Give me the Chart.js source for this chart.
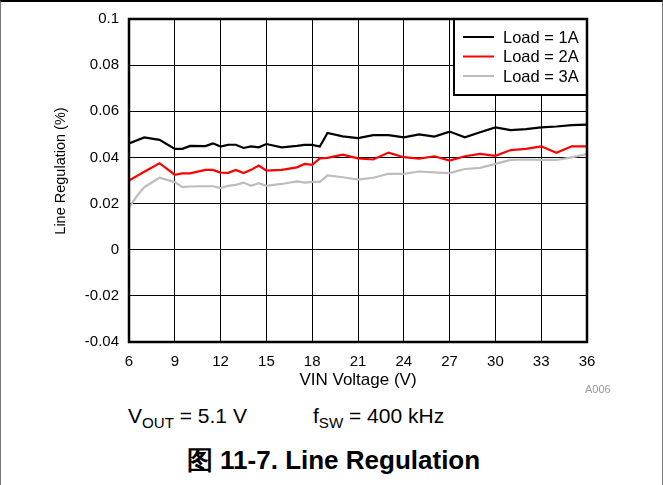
<!DOCTYPE html>
<html>
<head>
<meta charset="utf-8">
<script src="https://cdn.jsdelivr.net/npm/chart.js@4"></script>
<style>
  body { margin: 0; background: #fff; font-family: 'Liberation Sans', Arial, sans-serif; }
  #page { position: relative; width: 663px; height: 485px; overflow: hidden; }
  #frame { position: absolute; left: 0; top: 0; width: 661px; height: 490px;
           border-top: 2px solid #000; border-left: 1px solid #777; border-right: 1px solid #777; }
  #chart { position: absolute; left: 0; top: 0; }
  .txt { position: absolute; white-space: nowrap; line-height: 1; color: #000; }
  .txt sub { font-size: 0.72em; vertical-align: -0.3em; line-height: 0; }
</style>
</head>
<body>
<div id="page">
  <div id="frame"></div>
  <canvas id="chart" width="663" height="400"></canvas>
  <div class="txt" style="left:585px; top:384px; font-size:11px; color:#9a9a9a;">A006</div>
  <div class="txt" style="left:128px; top:405px; font-size:21px;">V<sub>OUT</sub> = 5.1 V</div>
  <div class="txt" style="left:313px; top:405px; font-size:21px;">f<sub>SW</sub> = 400 kHz</div>
  <div class="txt" style="left:0; width:667px; text-align:center; top:447px; font-size:26px; font-weight:bold;">图 11-7. Line Regulation</div>
</div>
<script>
// datos
const vin = [6, 6.5, 7, 8, 9, 9.5, 10, 11, 11.5, 12, 12.5, 13, 13.5, 14, 14.5, 15, 16, 17, 17.5, 18, 18.5,
             19, 20, 21, 22, 23, 24, 25, 26, 27, 28, 29, 30, 31, 32, 33, 34, 35, 36];
const load1A = [0.0461, null, 0.0487, 0.0476, 0.0437, 0.0437, 0.0450, 0.0449, 0.0461, 0.0447, 0.0455, 0.0455,
                0.0441, 0.0448, 0.0444, 0.0458, 0.0444, 0.0450, 0.0454, 0.0454, 0.0447,
                0.0506, 0.0491, 0.0484, 0.0497, 0.0497, 0.0487, 0.0500, 0.0490, 0.0512, 0.0487, 0.0509,
                0.0530, 0.0518, 0.0523, 0.0530, 0.0534, 0.0540, 0.0542];
const load2A = [0.0300, null, 0.0338, 0.0375, 0.0325, 0.0331, 0.0331, 0.0346, 0.0346, 0.0334, 0.0333, 0.0346,
                0.0332, 0.0346, 0.0365, 0.0343, 0.0346, 0.0357, 0.0372, 0.0368, 0.0396,
                0.0398, 0.0412, 0.0396, 0.0391, 0.0421, 0.0401, 0.0395, 0.0405, 0.0386, 0.0405, 0.0415,
                0.0407, 0.0432, 0.0437, 0.0448, 0.0420, 0.0448, 0.0448];
const load3A = [0.0182, 0.0231, 0.0271, 0.0312, 0.0293, 0.0271, 0.0274, 0.0275, 0.0275, 0.0267, 0.0277, 0.0281,
                0.0291, 0.0277, 0.0288, 0.0277, 0.0285, 0.0296, 0.0291, 0.0294, 0.0294,
                0.0322, 0.0314, 0.0304, 0.0312, 0.0329, 0.0329, 0.0339, 0.0335, 0.0332, 0.0350, 0.0355,
                0.0372, 0.0389, 0.0391, 0.0389, 0.0389, 0.0400, 0.0415];
const seriesLabels = ['Load = 1A', 'Load = 2A', 'Load = 3A'];
const seriesColors = ['#000000', '#ff0000', '#bdbdbd'];
const xTicks = [6, 9, 12, 15, 18, 21, 24, 27, 30, 33, 36];
const yTicks = ['-0.04', '-0.02', '0', '0.02', '0.04', '0.06', '0.08', '0.1'];
const yTitle = 'Line Regulation (%)';

const FONT = "'Liberation Sans', Arial, sans-serif";

function toPoints(ys) {
    return vin.map((x, i) => ({ x: x, y: ys[i] }));
}

// marco del área, título del eje Y y leyenda
const framePlugin = {
    id: 'framePlugin',
    afterDraw(chart) {
        const { ctx, chartArea: a } = chart;
        ctx.save();
        // título eje Y
        ctx.save();
        ctx.translate(61, 171);
        ctx.rotate(-Math.PI / 2);
        ctx.font = '14.5px ' + FONT;
        ctx.fillStyle = '#000';
        ctx.textAlign = 'center';
        ctx.textBaseline = 'middle';
        ctx.fillText(yTitle, 0, 0);
        ctx.restore();
        // leyenda
        const lx = 454, ly = a.top, lw = a.right - 454, lh = 76;
        ctx.fillStyle = '#fff';
        ctx.fillRect(lx, ly, lw, lh);
        ctx.lineWidth = 2;
        ctx.strokeStyle = '#000';
        ctx.strokeRect(lx, ly, lw, lh);
        ctx.font = '16.5px ' + FONT;
        ctx.textBaseline = 'middle';
        seriesLabels.forEach((label, i) => {
            const y = 37 + i * 19.5;
            ctx.strokeStyle = seriesColors[i];
            ctx.lineWidth = 2;
            ctx.beginPath();
            ctx.moveTo(463, y);
            ctx.lineTo(494, y);
            ctx.stroke();
            ctx.fillStyle = '#000';
            ctx.fillText(label, 503, y + 1);
        });
        // borde del área
        ctx.strokeStyle = '#000';
        ctx.lineWidth = 2.5;
        ctx.strokeRect(a.left, a.top, a.right - a.left, a.bottom - a.top);
        ctx.restore();
    }
};

const ctx = document.getElementById('chart').getContext('2d');
new Chart(ctx, {
    type: 'line',
    data: {
        datasets: [load1A, load2A, load3A].map((ys, i) => ({
            label: seriesLabels[i],
            data: toPoints(ys),
            borderColor: seriesColors[i],
            backgroundColor: seriesColors[i],
            borderWidth: 2.2,
            pointRadius: 0,
            tension: 0,
            spanGaps: true
        })).reverse()
    },
    options: {
        responsive: false,
        animation: false,
        layout: { padding: { left: 0, top: 18, right: 76, bottom: 0 } },
        plugins: { legend: { display: false }, tooltip: { enabled: false } },
        scales: {
            x: {
                type: 'linear',
                min: 6, max: 36,
                afterFit(s) { s.height = 58; },
                afterBuildTicks(s) { s.ticks = xTicks.map(v => ({ value: v })); },
                grid: { color: '#000', lineWidth: 1, drawTicks: false },
                border: { display: false },
                ticks: { color: '#000', font: { family: FONT, size: 15 }, padding: 11, maxRotation: 0,
                         callback: v => String(v) },
                title: { display: true, text: 'VIN Voltage (V)', color: '#000',
                         font: { family: FONT, size: 17 }, padding: { top: 0, bottom: 9 } }
            },
            y: {
                type: 'linear',
                min: -0.04, max: 0.1,
                afterFit(s) { s.width = 129; },
                afterBuildTicks(s) { s.ticks = yTicks.map(t => ({ value: parseFloat(t) })); },
                grid: { color: '#000', lineWidth: 1, drawTicks: false },
                border: { display: false },
                ticks: { color: '#000', font: { family: FONT, size: 15 }, padding: 10,
                         callback: (v, i) => yTicks[i] },
                title: { display: false }
            }
        }
    },
    plugins: [framePlugin]
});
</script>
</body>
</html>
